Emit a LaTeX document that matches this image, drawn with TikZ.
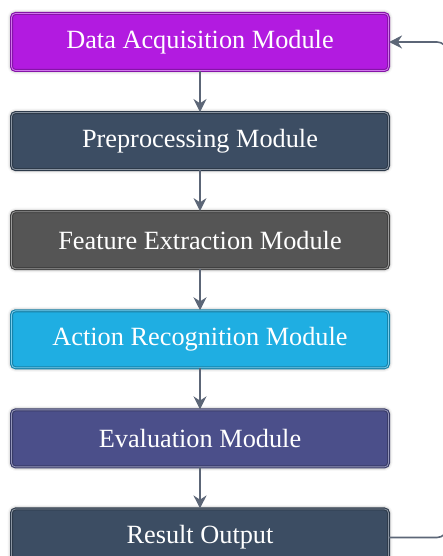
\documentclass[tikz,border=0pt]{standalone}
\usepackage{fontspec}
\setmainfont{Liberation Serif}
\newfontfamily\boxfont{Liberation Serif}
\usetikzlibrary{arrows.meta,positioning,shadows.blur}
\definecolor{ACQpurple}{HTML}{B21BE0}
\definecolor{PREslate}{HTML}{3C4D63}
\definecolor{FEAgray}{HTML}{555555}
\definecolor{ACTcyan}{HTML}{1FAEE2}
\definecolor{EVAindigo}{HTML}{4B4F8A}
\definecolor{arrowgray}{HTML}{5C6677}
\tikzset{
  module/.style={rectangle, rounded corners=4pt, minimum width=377pt, minimum height=57pt,
    fill=#1, draw=#1!75!black, double=#1!60!white, line width=1.1pt, double distance=0.8pt,
    text=white, font=\boxfont\fontsize{26.3}{30}\selectfont,
    blur shadow={shadow xshift=0pt, shadow yshift=0pt, shadow blur radius=4pt, shadow opacity=50}},
  flow/.style={-{Stealth[length=13pt,width=13pt]}, line width=1.6pt, draw=arrowgray}
}

\begin{document}
\begin{tikzpicture}[x=1pt,y=1pt]
  \useasboundingbox (0,0) rectangle (443,556);
  \clip (0,0) rectangle (443,556);
  \node[module=ACQpurple] (acq) at (200,514) {Data Acquisition Module};
  \node[module=PREslate, below=41pt of acq] (pre) {Preprocessing Module};
  \node[module=FEAgray, below=41pt of pre] (fea) {Feature Extraction Module};
  \node[module=ACTcyan, below=41pt of fea] (act) {Action Recognition Module};
  \node[module=EVAindigo, below=41pt of act] (eva) {Evaluation Module};
  \node[module=PREslate, below=41pt of eva] (res) {Result Output};
  \foreach \a/\b in {acq/pre,pre/fea,fea/act,act/eva,eva/res}
    \draw[flow] (\a.south) -- (\b.north);
  \draw[flow, rounded corners=10pt] (res.east) -- ++(58,0) |- (acq.east);
\end{tikzpicture}
\end{document}
